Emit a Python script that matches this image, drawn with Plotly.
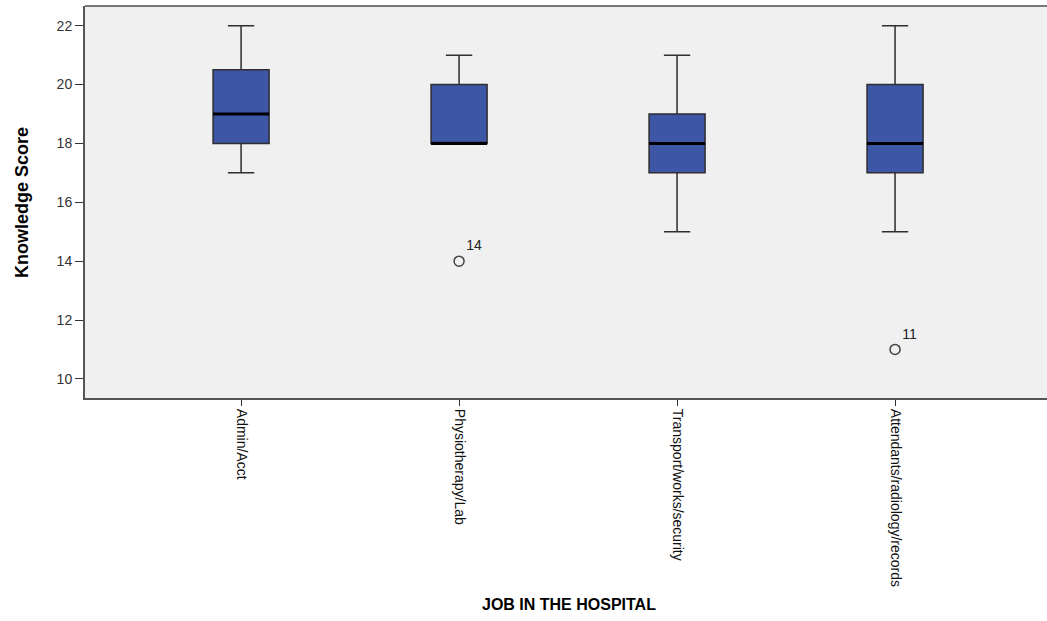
import plotly.graph_objects as go

categories = ["Admin/Acct", "Physiotherapy/Lab", "Transport/works/security", "Attendants/radiology/records"]
lower_whisker = [17, 18, 15, 15]
q1 = [18, 18, 17, 17]
median = [19, 18, 18, 18]
q3 = [20.5, 20, 19, 20]
upper_whisker = [22, 21, 21, 22]
outlier_cat = [1, 3]
outlier_val = [14, 11]
outlier_lbl = ["14", "11"]

xpos = list(range(len(categories)))
box_w = 0.257

fig = go.Figure()
fig.add_trace(go.Box(
    x=xpos, q1=q1, median=median, q3=q3,
    lowerfence=lower_whisker, upperfence=upper_whisker,
    width=box_w, whiskerwidth=0.47,
    fillcolor="#3e56a6", line=dict(color="#2e2e2e", width=1.5),
    boxpoints=False, showlegend=False, hoverinfo="skip",
))
# thick median lines
for i, m in zip(xpos, median):
    fig.add_trace(go.Scatter(
        x=[i - box_w / 2, i + box_w / 2], y=[m, m], mode="lines",
        line=dict(color="black", width=3), showlegend=False, hoverinfo="skip",
    ))
fig.add_trace(go.Scatter(
    x=outlier_cat, y=outlier_val, mode="markers+text", text=outlier_lbl,
    textposition="top right", textfont=dict(family="Liberation Sans, Arial", size=14, color="#222222"),
    marker=dict(symbol="circle-open", size=10, color="#444", line=dict(width=1.5, color="#444")),
    showlegend=False, hoverinfo="skip",
))

fig.update_layout(
    width=1047, height=621,
    margin=dict(l=85, r=0, t=6, b=223),
    paper_bgcolor="white", plot_bgcolor="#f0f0f0",
    xaxis=dict(
        range=[-0.716, 3.697], tickvals=xpos, ticktext=categories, tickangle=90,
        ticks="outside", ticklen=6, tickcolor="#333", showgrid=False, zeroline=False,
        showline=True, linecolor="#555", linewidth=2, mirror=False,
        tickfont=dict(family="Liberation Sans Narrow, Arial Narrow, Liberation Sans", size=14, color="#111"),
    ),
    yaxis=dict(
        range=[9.35, 22.67], tickvals=[10, 12, 14, 16, 18, 20, 22],
        ticks="outside", ticklen=8, tickcolor="#333", showgrid=False, zeroline=False,
        showline=True, linecolor="#555", linewidth=2, mirror=False,
        tickfont=dict(family="Liberation Sans, Arial", size=14, color="#333"),
    ),
    shapes=[dict(type="line", xref="paper", yref="paper", x0=0, x1=1, y0=1, y1=1,
                 line=dict(color="#777", width=2))],
    annotations=[
        dict(text="<b>Knowledge Score</b>", xref="paper", yref="paper", x=-0.0655, y=0.5,
             textangle=-90, showarrow=False, xanchor="center", yanchor="middle",
             font=dict(family="Liberation Sans Narrow, Arial Narrow, Liberation Sans", size=18, color="black")),
        dict(text="<b>JOB IN THE HOSPITAL</b>", xref="paper", yref="paper", x=0.503, y=-0.528,
             showarrow=False, xanchor="center", yanchor="middle",
             font=dict(family="Liberation Sans, Arial", size=16, color="black")),
    ],
)

fig.write_html("out.html", config={"displayModeBar": False},
               post_script="document.body.style.margin='0';document.body.style.overflow='hidden';")
